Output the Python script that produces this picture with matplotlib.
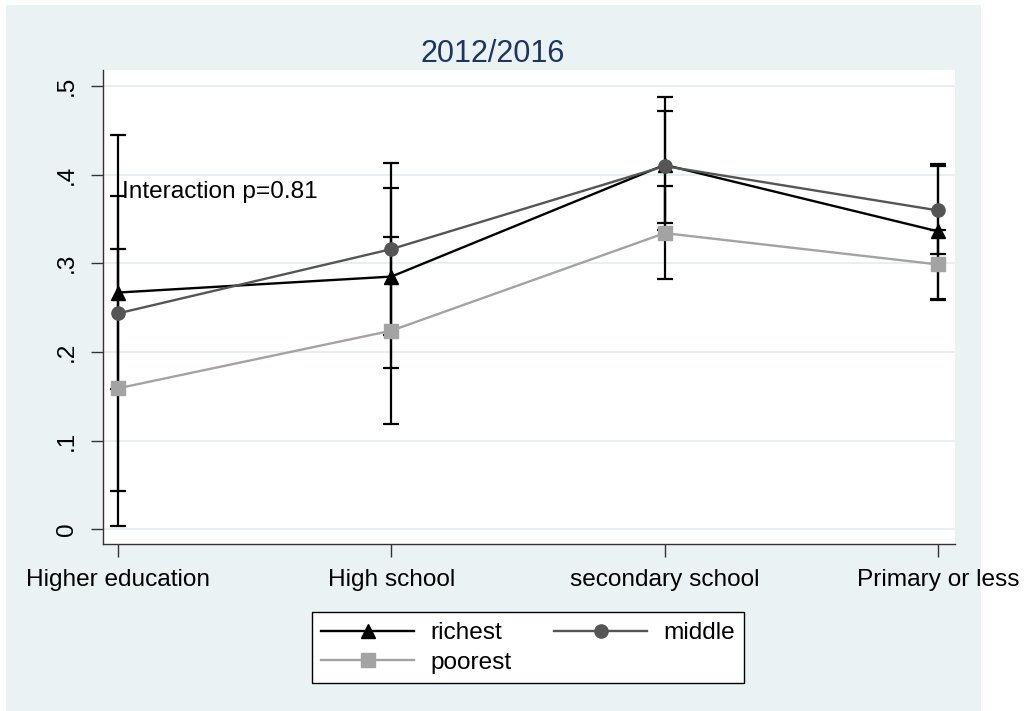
import numpy as np
import matplotlib
matplotlib.use('Agg')
import matplotlib.pyplot as plt
from matplotlib.patches import Rectangle

plt.rcParams['font.family'] = ['Liberation Sans', 'DejaVu Sans']

categories = ['Higher education', 'High school', 'secondary school', 'Primary or less']

richest = [0.267, 0.285, 0.411, 0.336]
richest_lo = [0.158, 0.182, 0.337, 0.260]
richest_hi = [0.376, 0.385, 0.487, 0.412]

middle = [0.2435, 0.316, 0.4096, 0.3596]
middle_lo = [0.043, 0.219, 0.346, 0.310]
middle_hi = [0.445, 0.413, 0.472, 0.410]

poorest = [0.159, 0.224, 0.334, 0.2987]
poorest_lo = [0.004, 0.119, 0.282, 0.2585]
poorest_hi = [0.316, 0.330, 0.387, 0.338]

yticks = [0, 0.1, 0.2, 0.3, 0.4, 0.5]
ytick_labels = ['0', '.1', '.2', '.3', '.4', '.5']

bg = '#eaf2f3'
fs = 17.6

fig = plt.figure(figsize=(10.25, 7.11), dpi=100)
fig.patch.set_facecolor('white')
# graph region box
fig.patches.append(Rectangle((6 / 1025, 0), 975 / 1025, 706 / 711,
                             transform=fig.transFigure, facecolor=bg,
                             edgecolor='none', zorder=-10))

ax = fig.add_axes([103 / 1025, 167 / 711, 852 / 1025, 474 / 711])
ax.set_facecolor('white')

x = np.arange(len(categories))
series = [
    (richest, richest_lo, richest_hi, 'black', '^', 'richest'),
    (middle, middle_lo, middle_hi, '#555555', 'o', 'middle'),
    (poorest, poorest_lo, poorest_hi, '#a3a3a3', 's', 'poorest'),
]

# confidence intervals first, lines drawn over them
for m, lo, hi, c, mk, lab in series:
    m = np.array(m)
    err = [m - np.array(lo), np.array(hi) - m]
    ax.errorbar(x, m, yerr=err, fmt='none', ecolor='black',
                elinewidth=1.6, capsize=6, capthick=1.6, zorder=2)

handles = {}
for m, lo, hi, c, mk, lab in series:
    h, = ax.plot(x, m, color=c, marker=mk, markersize=9.5, linewidth=1.7,
                 label=lab, zorder=3)
    handles[lab] = h

ax.set_xlim(-0.055, 3.062)
ax.set_ylim(-0.0166, 0.518)
ax.set_yticks(yticks)
ax.set_yticklabels(ytick_labels, rotation=90, va='center')
ax.set_xticks(x)
ax.set_xticklabels(categories)
ax.tick_params(axis='both', labelsize=fs, direction='out', length=9,
               width=1, color='#333333', pad=9)
ax.grid(axis='y', color='#e3ecee', linewidth=1.2, zorder=0)
ax.set_axisbelow(True)
for s in ['top', 'right']:
    ax.spines[s].set_visible(False)
for s in ['left', 'bottom']:
    ax.spines[s].set_color('#333333')
    ax.spines[s].set_linewidth(1)

ax.text(0.013, 0.3735, 'Interaction p=0.81', fontsize=fs, ha='left',
        va='baseline', zorder=4)

fig.text(493 / 1025, 1 - 61.5 / 711, '2012/2016', fontsize=22,
         color='#1e3562', ha='center', va='baseline')

# column-major fill: richest/poorest in column 1, middle in column 2
order = ['richest', 'poorest', 'middle']
leg = fig.legend(handles=[handles[k] for k in order], labels=order,
                 loc='upper center', bbox_to_anchor=(528 / 1025, 1 - 600 / 711),
                 ncol=2, fontsize=fs, frameon=True, fancybox=False,
                 framealpha=1, handlelength=3.8, handletextpad=0.65,
                 columnspacing=1.75, borderpad=0.4, labelspacing=0.3)
leg.get_frame().set_edgecolor('black')
leg.get_frame().set_linewidth(1)
leg.get_frame().set_facecolor('white')

fig.savefig('out.png', dpi=100, facecolor=fig.get_facecolor())
